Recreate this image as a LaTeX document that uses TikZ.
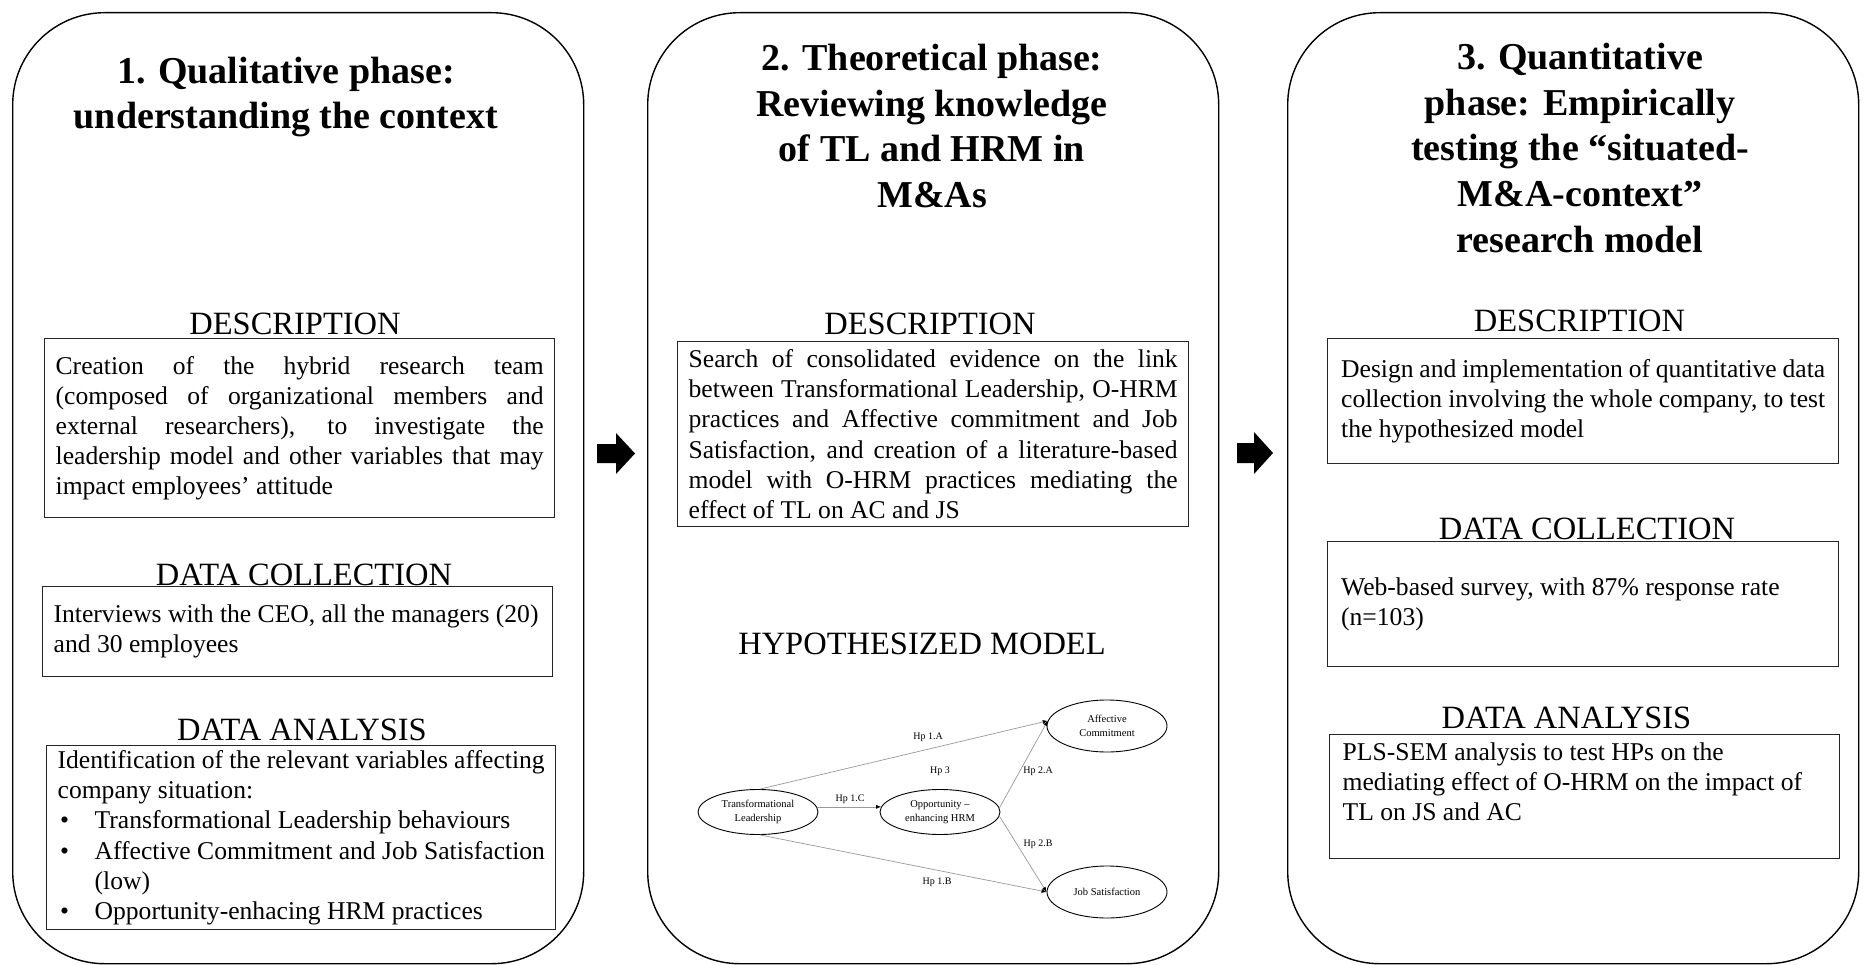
\documentclass[tikz,border=0pt]{standalone}
\usepackage{fontspec}
\setmainfont{Liberation Serif}
\usetikzlibrary{shapes.geometric,arrows.meta}
\newcommand\JustLine[1]{\makebox[\linewidth][s]{\spaceskip=0pt\xspaceskip=0pt #1}}
\newcommand\RagLine[1]{\mbox{\spaceskip=0pt\xspaceskip=0pt #1}}
\newcommand\Bul{\makebox[37pt][l]{\hspace{2.5pt}\textbullet}}
\begin{document}
\begin{tikzpicture}[x=1pt,y=-1pt,
  panel/.style={draw=black, line width=1.4pt, rounded corners=92pt, anchor=north west, inner sep=0pt},
  ttl/.style={font=\fontsize{38}{45.75}\selectfont\bfseries, align=center, inner sep=0pt},
  head/.style={font=\fontsize{32.5}{36}\selectfont, inner sep=0pt},
  tbox/.style={draw=black!85, line width=1.3pt, anchor=north west, font=\fontsize{25.6}{30.2}\selectfont, inner ysep=0pt, inner xsep=11pt, align=justify},
  ell/.style={ellipse, draw=black, line width=0.9pt, font=\fontsize{10.5}{13.5}\selectfont, align=center, inner sep=0pt, minimum width=120pt},
  hp/.style={font=\fontsize{10}{12}\selectfont, inner sep=0pt},
  link/.style={draw=black!40, line width=0.7pt, -{Latex[length=5pt,width=4pt,color=black]}}
]
\useasboundingbox (0,0) rectangle (1865,965);
\fill[white] (0,0) rectangle (1865,965);

% panels
\node[panel, minimum width=571pt, minimum height=951pt] (p1) at (12,12) {};
\node[panel, minimum width=571pt, minimum height=951pt] (p2) at (647,12) {};
\node[panel, minimum width=571pt, minimum height=951pt] (p3) at (1287,12) {};

% titles
\node[ttl] (t1) at (286,97) {1. Qualitative phase:\\understanding the context};
\node[ttl] (t2) at (932,126) {2. Theoretical phase:\\Reviewing knowledge\\of TL and HRM in\\M\&As};
\node[ttl] (t3) at (1580,148) {3. Quantitative\\phase: Empirically\\testing the “situated-\\M\&A-context”\\research model};

% panel 1 boxes
\node[tbox, minimum width=510pt, minimum height=179pt, text width=488pt] (d1) at (44,338)
 {\JustLine{Creation of the hybrid research team}\\
  \JustLine{(composed of organizational members and}\\
  \JustLine{external researchers), to investigate the}\\
  \JustLine{leadership model and other variables that may}\\
  \RagLine{impact employees’ attitude}};
\node[tbox, minimum width=510pt, minimum height=90pt, text width=488pt] (c1) at (42,586)
 {\RagLine{Interviews with the CEO, all the managers (20)}\\ \RagLine{and 30 employees}};
\node[tbox, minimum width=509pt, minimum height=184pt, text width=487pt] (a1) at (46,745)
 {\JustLine{Identification of the relevant variables affecting}\\
  \RagLine{company situation:}\\
  \Bul\RagLine{Transformational Leadership behaviours}\\
  \Bul\RagLine{Affective Commitment and Job Satisfaction}\\
  \hspace*{37pt}\RagLine{(low)}\\
  \Bul\RagLine{Opportunity-enhacing HRM practices}};

% panel 2 box
\node[tbox, minimum width=511pt, minimum height=185pt, text width=489pt] (d2) at (677,341)
 {\JustLine{Search of consolidated evidence on the link}\\
  \JustLine{between Transformational Leadership, O-HRM}\\
  \JustLine{practices and Affective commitment and Job}\\
  \JustLine{Satisfaction, and creation of a literature-based}\\
  \JustLine{model with O-HRM practices mediating the}\\
  \RagLine{effect of TL on AC and JS}};

% panel 3 boxes
\node[tbox, minimum width=511pt, minimum height=125pt, text width=484pt] (d3) at (1327,338)
 {\JustLine{Design and implementation of quantitative data}\\
  \JustLine{collection involving the whole company, to test}\\
  \RagLine{the hypothesized model}};
\node[tbox, minimum width=511pt, minimum height=125pt, text width=484pt] (c3) at (1327,541)
 {\RagLine{Web-based survey, with 87\% response rate}\\ \RagLine{(n=103)}};
\node[tbox, minimum width=510pt, minimum height=124pt, text width=484pt] (a3) at (1329,734)
 {\RagLine{PLS-SEM analysis to test HPs on the}\\ \RagLine{mediating effect of O-HRM on the impact of}\\ \RagLine{TL on JS and AC}\\ \mbox{}};

% headings
\node[head] (h1d) at (295,323.5) {DESCRIPTION};
\node[head] (h1c) at (304,574.5) {DATA COLLECTION};
\node[head] (h1a) at (302,730) {DATA ANALYSIS};
\node[head] (h2d) at (930,323.5) {DESCRIPTION};
\node[head] (h2m) at (922,643.5) {HYPOTHESIZED MODEL};
\node[head] (h3d) at (1579.5,321) {DESCRIPTION};
\node[head] (h3c) at (1587,529) {DATA COLLECTION};
\node[head] (h3a) at (1566.5,718) {DATA ANALYSIS};

% block arrows between panels
\fill[black] (597,444) -- (616,444) -- (616,433) -- (635,453.5) -- (616,474) -- (616,463) -- (597,463) -- cycle;
\fill[black] (1237,443) -- (1254,443) -- (1254,432) -- (1273,453) -- (1254,474) -- (1254,463) -- (1237,463) -- cycle;

% hypothesized model
\node[ell, minimum height=45pt] (tl) at (758,812) {Transformational\\Leadership};
\node[ell, minimum height=45pt] (oh) at (940,812) {Opportunity –\\enhancing HRM};
\node[ell, minimum height=52pt] (ac) at (1107,726) {Affective\\Commitment};
\node[ell, minimum height=52pt] (js) at (1107,892) {Job Satisfaction};

\draw[link] (tl.85) -- (ac.175);
\draw[link] (tl.5) -- (oh.175);
\draw[link] (tl.275) -- (js.west);
\draw[link] (oh.4) -- (ac.175);
\draw[link] (oh.-4) -- (js.west);

\node[hp] (l1a) at (928,737) {Hp 1.A};
\node[hp] (l3) at (940,771) {Hp 3};
\node[hp] (l1c) at (850,799) {Hp 1.C};
\node[hp] (l2a) at (1038,771) {Hp 2.A};
\node[hp] (l2b) at (1038,844) {Hp 2.B};
\node[hp] (l1b) at (937,882) {Hp 1.B};
\end{tikzpicture}
\end{document}
